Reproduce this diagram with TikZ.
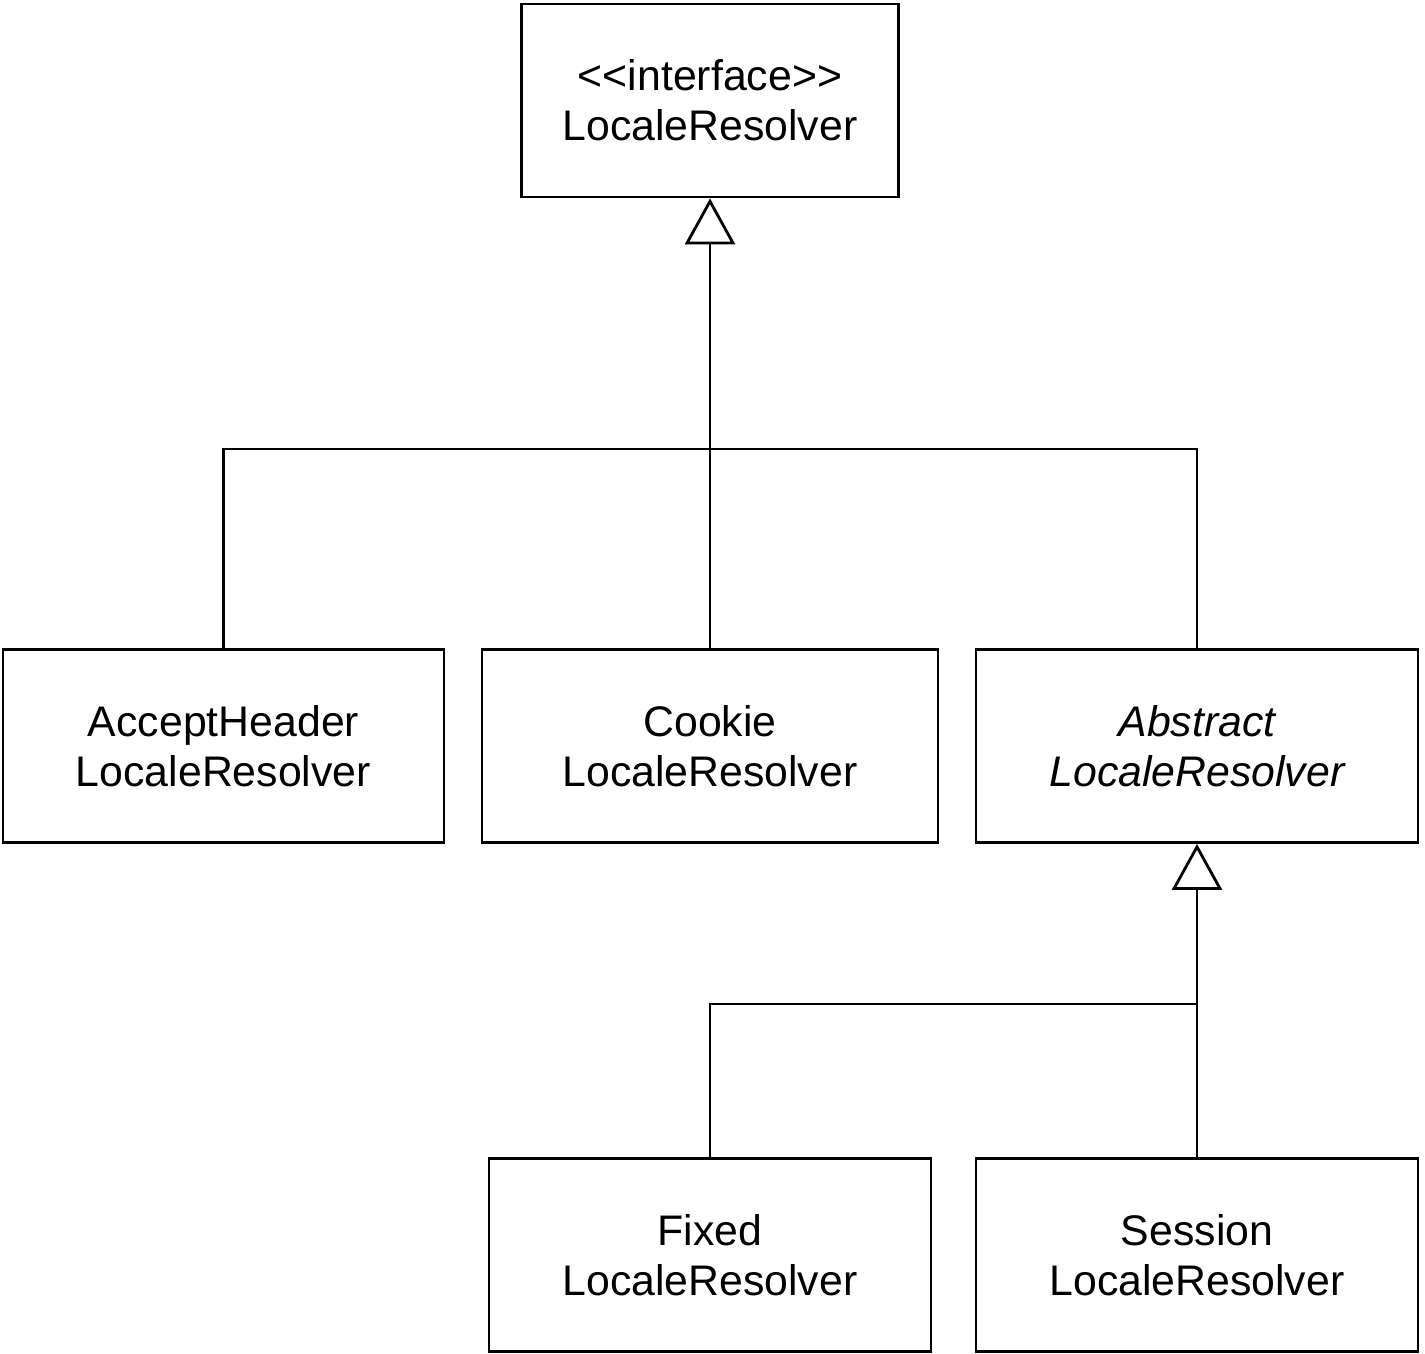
\documentclass[tikz,border=0pt]{standalone}
\usepackage{fontspec}
\setmainfont{Liberation Sans}
\usetikzlibrary{arrows.meta}
\begin{document}
\begin{tikzpicture}[x=1pt,y=-1pt,
  box/.style={draw, line width=2.8pt, align=center, inner sep=0pt,
    font=\fontsize{42.8}{50}\selectfont, minimum height=193pt},
  link/.style={line width=2.8pt, line join=miter},
  gen/.style={link, -{Triangle[open, length=46pt, width=50pt, line width=2.8pt]}}]
\useasboundingbox (0,0) rectangle (1425,1354);
\node[box, minimum width=377pt] (top) at (710,100.5) {<{}<interface>{}>\\LocaleResolver};
\node[box, minimum width=441pt] (accept) at (223.5,746) {AcceptHeader\\LocaleResolver};
\node[box, minimum width=456pt] (cookie) at (710,746) {Cookie\\LocaleResolver};
\node[box, minimum width=442pt] (abstract) at (1197,746) {\itshape Abstract\\\itshape LocaleResolver};
\node[box, minimum width=442pt] (fixed) at (710,1255) {Fixed\\LocaleResolver};
\node[box, minimum width=442pt] (session) at (1197,1255) {Session\\LocaleResolver};
\coordinate (j1) at (710,449);
\coordinate (j2) at (1197,1004);
\draw[gen] (cookie.north) -- (top.south);
\draw[link] (accept.north) |- (j1) -| (abstract.north);
\draw[gen] (session.north) -- (abstract.south);
\draw[link] (fixed.north) |- (j2);
\end{tikzpicture}
\end{document}
